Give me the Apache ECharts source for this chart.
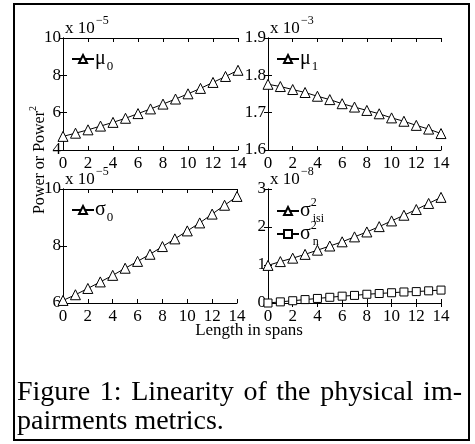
<!DOCTYPE html>
<html>
<head>
    <meta http-equiv="Content-Type" content="text/html; charset=utf-8" />
    <script src="https://cdn.jsdelivr.net/npm/echarts@6/dist/echarts.min.js"></script>
    <style>
        html, body { margin: 0; padding: 0; background: #fff; }
        #main { width: 475px; height: 444px; }
    </style>
</head>
<body>
<div id="main"></div>
<script type="text/javascript">
    // span counts (x axis of all four panels)
    var spans = [0, 1, 2, 3, 4, 5, 6, 7, 8, 9, 10, 11, 12, 13, 14];
    // x 10^-5
    var mu0 = [4.73, 4.90, 5.08, 5.28, 5.48, 5.70, 5.95, 6.20, 6.46, 6.73, 7.01, 7.30, 7.62, 7.94, 8.27];
    // x 10^-3
    var mu1 = [1.776, 1.770, 1.762, 1.754, 1.744, 1.735, 1.724, 1.715, 1.706, 1.697, 1.686, 1.677, 1.666, 1.656, 1.644];
    // x 10^-5
    var sigma0 = [6.09, 6.29, 6.51, 6.74, 6.97, 7.22, 7.46, 7.71, 7.98, 8.25, 8.53, 8.81, 9.12, 9.43, 9.74];
    // x 10^-8
    var sigmaIsi = [0.99, 1.09, 1.18, 1.28, 1.39, 1.50, 1.61, 1.74, 1.87, 2.01, 2.16, 2.31, 2.46, 2.62, 2.78];
    var sigmaN = [0.00, 0.03, 0.06, 0.09, 0.12, 0.15, 0.18, 0.20, 0.23, 0.25, 0.27, 0.29, 0.30, 0.32, 0.34];

    var xTicks = [0, 14, 2];
    var yTicks = [[4, 10, 2], [1.6, 1.9, 0.1], [6, 10, 2], [0, 3, 1]];
    var exponents = ['−5', '−3', '−5', '−8'];

    var captionLine1 = ['Figure', '1:', 'Linearity', 'of', 'the', 'physical', 'im-'];
    var captionLine2 = 'pairments metrics.';

    var font = 'Liberation Serif';
    var captionSize = 28;
    var grids = [
        {left: 63, top: 38, width: 175, height: 112},
        {left: 268, top: 38, width: 173, height: 112},
        {left: 63, top: 189, width: 174, height: 114},
        {left: 268, top: 189, width: 173, height: 114}
    ];

    function pairs(ys) {
        return spans.map(function (x, i) { return [x, ys[i]]; });
    }

    var xAxes = [], yAxes = [], scaleLabels = [];
    grids.forEach(function (g, i) {
        xAxes.push({
            type: 'value', gridIndex: i, position: 'bottom',
            min: xTicks[0], max: xTicks[1], interval: xTicks[2],
            axisLine: {lineStyle: {color: '#000', width: 1}},
            axisTick: {inside: true, length: 4, lineStyle: {color: '#000'}},
            axisLabel: {color: '#000', fontFamily: font, fontSize: 17, margin: 5},
            splitLine: {show: false}
        });
        xAxes.push({
            type: 'value', gridIndex: i, position: 'top',
            min: xTicks[0], max: xTicks[1], interval: xTicks[2],
            axisLine: {lineStyle: {color: '#000', width: 1}},
            axisTick: {inside: true, length: 4, lineStyle: {color: '#000'}},
            axisLabel: {show: false},
            splitLine: {show: false}
        });
        var r = yTicks[i];
        yAxes.push({
            type: 'value', gridIndex: i, position: 'left',
            min: r[0], max: r[1], interval: r[2],
            axisLine: {lineStyle: {color: '#000', width: 1}},
            axisTick: {inside: true, length: 4, lineStyle: {color: '#000'}},
            axisLabel: {
                color: '#000', fontFamily: font, fontSize: 17, margin: 2,
                formatter: function (v) { return String(Math.round(v * 10) / 10); }
            },
            splitLine: {show: false}
        });
        yAxes.push({
            type: 'value', gridIndex: i, position: 'right',
            min: r[0], max: r[1], interval: r[2],
            axisLine: {lineStyle: {color: '#000', width: 1}},
            axisTick: {inside: true, length: 4, lineStyle: {color: '#000'}},
            axisLabel: {show: false},
            splitLine: {show: false}
        });
        // "x 10^-n" scale factor above each panel
        scaleLabels.push({type: 'text', x: g.left + 2, y: g.top - 9,
            style: {text: 'x 10', fontFamily: font, fontSize: 17, fill: '#000', align: 'left', verticalAlign: 'middle'}});
        scaleLabels.push({type: 'text', x: g.left + 33, y: g.top - 17,
            style: {text: exponents[i], fontFamily: font, fontSize: 12, fill: '#000', align: 'left', verticalAlign: 'middle'}});
    });

    function lineSeries(name, ys, i, symbol) {
        return {
            name: name, type: 'line',
            xAxisIndex: 2 * i, yAxisIndex: 2 * i,
            data: pairs(ys),
            symbol: symbol, symbolSize: symbol === 'rect' ? 8 : 10,
            showAllSymbol: true,
            lineStyle: {color: '#000', width: 1},
            itemStyle: {color: '#fff', borderColor: '#000', borderWidth: 1},
            emphasis: {disabled: true},
            animation: false
        };
    }

    var legendRich = {
        g: {fontFamily: font, fontSize: 20, color: '#000', lineHeight: 28, verticalAlign: 'middle'},
        sub: {fontFamily: font, fontSize: 13, color: '#000', verticalAlign: 'bottom', padding: [0, 0, 0, 1]},
        sup: {fontFamily: font, fontSize: 12, color: '#000', verticalAlign: 'top', width: 1},
        sub2: {fontFamily: font, fontSize: 12, color: '#000', verticalAlign: 'bottom', padding: [0, 0, 0, 1]}
    };
    var legendText = {
        'μ0': '{g|μ}{sub|0}',
        'μ1': '{g|μ}{sub|1}',
        'σ0': '{g|σ}{sub|0}',
        'σ²isi': '{g|σ}{sup|2}{sub2|isi}',
        'σ²n': '{g|σ}{sup|2}{sub2|n}'
    };

    function legend(i, names, orient, dy, gap) {
        return {
            left: grids[i].left + 8, top: grids[i].top + dy,
            orient: orient || 'horizontal', padding: 0, itemGap: gap,
            itemWidth: 22, itemHeight: 10,
            data: names,
            selectedMode: false,
            formatter: function (n) { return legendText[n]; },
            textStyle: {rich: legendRich, padding: [0, 0, 0, -4]}
        };
    }

    // justify the first caption line between the frame margins
    var ctx = document.createElement('canvas').getContext('2d');
    ctx.font = captionSize + 'px "' + font + '"';
    var wordsWidth = 0;
    captionLine1.forEach(function (w) { wordsWidth += ctx.measureText(w).width; });
    var gap = (462 - 17 - wordsWidth) / (captionLine1.length - 1);
    var captionRich = captionLine1.map(function (w) { return '{w|' + w + '}'; }).join('{s| }');

    var chart = echarts.init(document.getElementById('main'), null, {renderer: 'canvas'});
    var option = {
        backgroundColor: '#fff',
        animation: false,
        grid: grids,
        xAxis: xAxes,
        yAxis: yAxes,
        legend: [
            legend(0, ['μ0'], 'horizontal', 11, 0),
            legend(1, ['μ1'], 'horizontal', 11, 0),
            legend(2, ['σ0'], 'horizontal', 11, 0),
            legend(3, ['σ²isi', 'σ²n'], 'vertical', 8, -5)
        ],
        series: [
            lineSeries('μ0', mu0, 0, 'triangle'),
            lineSeries('μ1', mu1, 1, 'triangle'),
            lineSeries('σ0', sigma0, 2, 'triangle'),
            lineSeries('σ²isi', sigmaIsi, 3, 'triangle'),
            lineSeries('σ²n', sigmaN, 3, 'rect')
        ],
        graphic: [
            {type: 'rect', shape: {x: 14, y: 4, width: 455, height: 436},
             style: {fill: 'none', stroke: '#000', lineWidth: 2}, silent: true},
            {type: 'text', x: 38, y: 160, rotation: Math.PI / 2,
             style: {text: '{t|Power or Power}{s|2}', align: 'center', verticalAlign: 'middle',
                 rich: {t: {fontFamily: font, fontSize: 16, fill: '#000', lineHeight: 20, verticalAlign: 'bottom'},
                        s: {fontFamily: font, fontSize: 10, fill: '#000', verticalAlign: 'top'}}}},
            {type: 'text', x: 249, y: 331,
             style: {text: 'Length in spans', fontFamily: font, fontSize: 17, fill: '#000',
                 align: 'center', verticalAlign: 'middle'}},
            {type: 'text', x: 17, y: 393,
             style: {text: captionRich, align: 'left', verticalAlign: 'middle',
                 rich: {w: {fontFamily: font, fontSize: captionSize, fill: '#000'},
                        s: {fontFamily: font, fontSize: captionSize, width: gap}}}},
            {type: 'text', x: 17, y: 422,
             style: {text: captionLine2, fontFamily: font, fontSize: captionSize, fill: '#000',
                 align: 'left', verticalAlign: 'middle'}}
        ].concat(scaleLabels)
    };
    chart.setOption(option);
</script>
</body>
</html>
